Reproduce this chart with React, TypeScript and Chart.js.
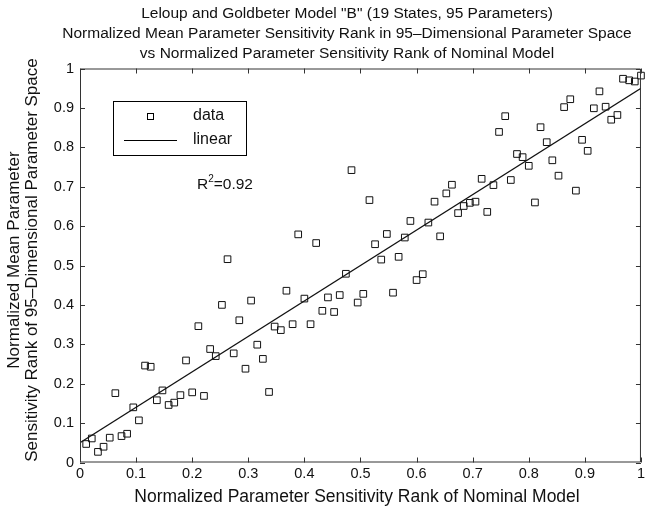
import React, { useEffect, useRef } from "react";
import { Chart, registerables } from "chart.js";

Chart.register(...registerables);

const titleLines = [
  'Leloup and Goldbeter Model "B" (19 States, 95 Parameters)',
  "Normalized Mean Parameter Sensitivity Rank in 95\u2013Dimensional Parameter Space",
  "vs Normalized Parameter Sensitivity Rank of Nominal Model",
];
const xAxisTitle = "Normalized Parameter Sensitivity Rank of Nominal Model";
const yAxisTitleLines = [
  "Normalized Mean Parameter",
  "Sensitivity Rank of 95\u2013Dimensional Parameter Space",
];
const tickValues = [0, 0.1, 0.2, 0.3, 0.4, 0.5, 0.6, 0.7, 0.8, 0.9, 1];

const nominalRank = [
  0.011, 0.021, 0.032, 0.042, 0.053, 0.063, 0.074, 0.084, 0.095, 0.105,
  0.116, 0.126, 0.137, 0.147, 0.158, 0.168, 0.179, 0.189, 0.2, 0.211,
  0.221, 0.232, 0.242, 0.253, 0.263, 0.274, 0.284, 0.295, 0.305, 0.316,
  0.326, 0.337, 0.347, 0.358, 0.368, 0.379, 0.389, 0.4, 0.411, 0.421,
  0.432, 0.442, 0.453, 0.463, 0.474, 0.484, 0.495, 0.505, 0.516, 0.526,
  0.537, 0.547, 0.558, 0.568, 0.579, 0.589, 0.6, 0.611, 0.621, 0.632,
  0.642, 0.653, 0.663, 0.674, 0.684, 0.695, 0.705, 0.716, 0.726, 0.737,
  0.747, 0.758, 0.768, 0.779, 0.789, 0.8, 0.811, 0.821, 0.832, 0.842,
  0.853, 0.863, 0.874, 0.884, 0.895, 0.905, 0.916, 0.926, 0.937, 0.947,
  0.958, 0.968, 0.979, 0.989, 1.0,
];
const meanRank = [
  0.047, 0.061, 0.027, 0.04, 0.063, 0.176, 0.067, 0.073, 0.14, 0.107,
  0.246, 0.243, 0.158, 0.183, 0.146, 0.152, 0.171, 0.259, 0.178, 0.346,
  0.169, 0.288, 0.27, 0.4, 0.516, 0.277, 0.361, 0.238, 0.411, 0.299,
  0.263, 0.179, 0.345, 0.336, 0.436, 0.351, 0.579, 0.416, 0.351, 0.557,
  0.385, 0.419, 0.382, 0.425, 0.479, 0.742, 0.406, 0.428, 0.666, 0.554,
  0.515, 0.58, 0.431, 0.522, 0.571, 0.613, 0.463, 0.478, 0.609, 0.662,
  0.574, 0.683, 0.705, 0.633, 0.651, 0.659, 0.662, 0.72, 0.636, 0.704,
  0.839, 0.879, 0.717, 0.783, 0.775, 0.753, 0.66, 0.851, 0.813, 0.767,
  0.728, 0.902, 0.922, 0.69, 0.819, 0.791, 0.899, 0.942, 0.903, 0.87,
  0.882, 0.974, 0.97, 0.967, 0.982,
];
const fitX = [0, 1];
const fitY = [0.05, 0.95];
const legendLabels = ["data", "linear"];
const r2Value = "0.92";

const FONT = "'Liberation Sans', Arial, Helvetica, sans-serif";
const TEXT = "#111";
const AXIS = "#333";

const fmt = (v: number) => String(Math.round(v * 10) / 10);

const decorPlugin = {
  id: "decor",
  afterDraw(chart: any) {
    const ctx = chart.ctx as CanvasRenderingContext2D;
    const { left, right, top, bottom } = chart.chartArea;
    const xs = chart.scales.x;
    const ys = chart.scales.y;
    ctx.save();
    // box
    ctx.strokeStyle = AXIS;
    ctx.lineWidth = 1;
    ctx.beginPath();
    ctx.rect(left + 0.5, top + 0.5, right - left - 1, bottom - top - 1);
    ctx.stroke();
    // inward ticks
    const tl = 5;
    ctx.beginPath();
    tickValues.forEach((v) => {
      const px = Math.round(xs.getPixelForValue(v)) + 0.5;
      ctx.moveTo(px, bottom);
      ctx.lineTo(px, bottom - tl);
      ctx.moveTo(px, top);
      ctx.lineTo(px, top + tl);
      const py = Math.round(ys.getPixelForValue(v)) + 0.5;
      ctx.moveTo(left, py);
      ctx.lineTo(left + tl, py);
      ctx.moveTo(right, py);
      ctx.lineTo(right - tl, py);
    });
    ctx.stroke();

    // title
    ctx.fillStyle = TEXT;
    ctx.font = `15.5px ${FONT}`;
    ctx.textAlign = "center";
    ctx.textBaseline = "middle";
    const tcx = 347;
    titleLines.forEach((t, i) => ctx.fillText(t, tcx, 14 + i * 20));

    // x axis title
    ctx.font = `17.5px ${FONT}`;
    ctx.fillText(xAxisTitle, 357, 497);

    // y axis title
    ctx.font = `17px ${FONT}`;
    yAxisTitleLines.forEach((t, i) => {
      ctx.save();
      ctx.translate(14 + i * 18, 260);
      ctx.rotate(-Math.PI / 2);
      ctx.fillText(t, 0, 0);
      ctx.restore();
    });

    // legend
    const lx = 113, ly = 101, lw = 133, lh = 54;
    ctx.fillStyle = "#fff";
    ctx.fillRect(lx, ly, lw, lh);
    ctx.strokeStyle = "#000";
    ctx.strokeRect(lx + 0.5, ly + 0.5, lw, lh);
    ctx.strokeRect(150 - 3 + 0.5, 116 - 3 + 0.5, 6, 6);
    ctx.beginPath();
    ctx.moveTo(124, 140.5);
    ctx.lineTo(177, 140.5);
    ctx.stroke();
    ctx.fillStyle = TEXT;
    ctx.font = `16px ${FONT}`;
    ctx.textAlign = "left";
    ctx.fillText(legendLabels[0], 193, 116);
    ctx.fillText(legendLabels[1], 193, 140);

    // R^2
    ctx.font = `15.5px ${FONT}`;
    ctx.textBaseline = "alphabetic";
    let rx = 197;
    const rb = 189;
    ctx.fillText("R", rx, rb);
    rx += ctx.measureText("R").width;
    ctx.font = `10px ${FONT}`;
    ctx.fillText("2", rx, rb - 7);
    rx += ctx.measureText("2").width;
    ctx.font = `15.5px ${FONT}`;
    ctx.fillText("=" + r2Value, rx, rb);
    ctx.restore();
  },
};

export default function App() {
  const ref = useRef<HTMLCanvasElement | null>(null);
  useEffect(() => {
    document.body.style.margin = "0";
    const canvas = ref.current;
    if (!canvas) return;
    const chart = new Chart(canvas, {
      type: "scatter",
      data: {
        datasets: [
          {
            label: legendLabels[0],
            data: nominalRank.map((x, i) => ({ x, y: meanRank[i] })),
            pointStyle: "rect",
            pointRadius: 4.7,
            pointBorderWidth: 1,
            pointBorderColor: "#111",
            pointBackgroundColor: "rgba(0,0,0,0)",
            clip: false as any,
          },
          {
            type: "line" as any,
            label: legendLabels[1],
            data: fitX.map((x, i) => ({ x, y: fitY[i] })),
            borderColor: "#111",
            borderWidth: 1.2,
            pointRadius: 0,
            fill: false,
          },
        ],
      },
      options: {
        responsive: false,
        animation: false,
        devicePixelRatio: 1,
        layout: { padding: { top: 68.5, right: 1, left: 0, bottom: 0 } },
        plugins: {
          legend: { display: false },
          tooltip: { enabled: false },
          title: { display: false },
        },
        scales: {
          x: {
            type: "linear",
            min: 0,
            max: 1,
            afterBuildTicks: (s: any) => {
              s.ticks = tickValues.map((v) => ({ value: v }));
            },
            ticks: {
              callback: (v: any) => fmt(Number(v)),
              font: { family: FONT, size: 14.5 },
              color: TEXT,
              padding: 3,
              maxRotation: 0,
              autoSkip: false,
            },
            grid: { display: false, drawTicks: false },
            border: { display: false },
            afterFit: (s: any) => {
              s.height = 44.5;
            },
          },
          y: {
            type: "linear",
            min: 0,
            max: 1,
            afterBuildTicks: (s: any) => {
              s.ticks = tickValues.map((v) => ({ value: v }));
            },
            ticks: {
              callback: (v: any) => fmt(Number(v)),
              font: { family: FONT, size: 14.5 },
              color: TEXT,
              padding: 6,
              autoSkip: false,
            },
            grid: { display: false, drawTicks: false },
            border: { display: false },
            afterFit: (s: any) => {
              s.width = 80;
            },
          },
        },
      },
      plugins: [decorPlugin],
    });
    return () => chart.destroy();
  }, []);
  return (
    <div style={{ width: 648, height: 507 }}>
      <canvas ref={ref} width={648} height={507} style={{ display: "block" }} />
    </div>
  );
}
